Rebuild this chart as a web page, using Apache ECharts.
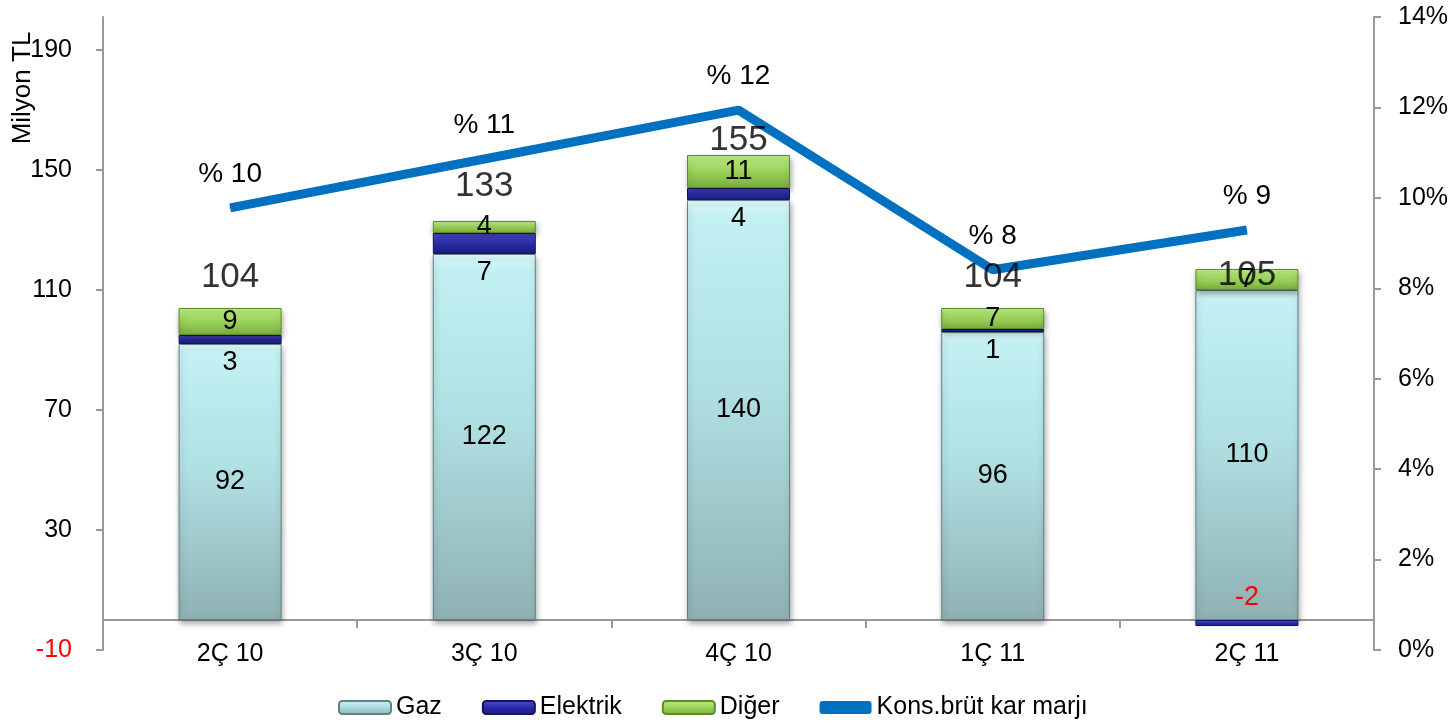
<!DOCTYPE html>
<html><head><meta charset="utf-8">
<script src="https://cdn.jsdelivr.net/npm/echarts@6/dist/echarts.min.js"></script>
<style>html,body{margin:0;padding:0;background:#fff}#c{width:1456px;height:721px}</style>
</head><body><div id="c"></div>
<script>
const categories = ['2Ç 10', '3Ç 10', '4Ç 10', '1Ç 11', '2Ç 11'];
const gaz = [92, 122, 140, 96, 110];
const elektrik = [3, 7, 4, 1, -2];
const diger = [9, 4, 11, 7, 7];
const totals = [104, 133, 155, 104, 105];
const margin = [9.78, 10.86, 11.94, 8.41, 9.29];
// style: how far each total label sits above the stack top (px)
const totalLift = [31, 35, 15, 31, -6];

const FONT = 'Liberation Sans, Arial, sans-serif';
const grad = (stops) => new echarts.graphic.LinearGradient(0, 0, 0, 1, stops.map((c) => ({offset: c[0], color: c[1]})));
const gazColor = grad([[0, '#e2fbfc'], [0.04, '#c2f0f3'], [0.45, '#b0e0e3'], [1, '#8fb1b3']]);
const elColor = grad([[0, '#5252d6'], [0.5, '#2a2aa8'], [1, '#1a1a7a']]);
const digColor = grad([[0, '#c0ee86'], [0.5, '#9bd25a'], [1, '#7aad3c']]);
const shadow = {shadowBlur: 6, shadowColor: 'rgba(0,0,0,0.35)', shadowOffsetY: 3, shadowOffsetX: 1};

const stackTop = gaz.map((g, i) => g + Math.max(elektrik[i], 0) + diger[i]);

const chart = echarts.init(document.getElementById('c'));
chart.setOption({
  animation: false,
  textStyle: {fontFamily: FONT},
  grid: {left: 103, right: 82, top: 17, bottom: 71},
  legend: {
    top: 690, left: 333, itemWidth: 52, itemHeight: 13, itemGap: 40,
    textStyle: {fontSize: 25, color: '#000', fontFamily: FONT},
    data: [{name: 'Gaz'}, {name: 'Elektrik'}, {name: 'Diğer'}, {name: 'Kons.brüt kar marjı', icon: 'roundRect'}]
  },
  graphic: [{
    type: 'text', x: 23, y: 88, rotation: Math.PI / 2,
    style: {text: 'Milyon TL', fontSize: 26, fontFamily: FONT, fill: '#000', align: 'center', verticalAlign: 'middle'}
  }],
  xAxis: {
    type: 'category', data: categories,
    axisLine: {onZero: true, lineStyle: {color: '#999', width: 2}},
    axisTick: {show: true, length: 8, lineStyle: {color: '#999', width: 2}},
    axisLabel: {fontSize: 25, color: '#000', margin: -8, fontFamily: FONT}
  },
  yAxis: [{
    type: 'value', min: -10, max: 201, interval: 40,
    splitLine: {show: false},
    axisLine: {show: true, onZero: false, lineStyle: {color: '#999', width: 2}},
    axisTick: {show: true, length: 7, lineStyle: {color: '#999', width: 2}},
    axisLabel: {
      showMaxLabel: false, fontSize: 25, margin: 31, color: '#000', fontFamily: FONT,
      formatter: v => v < 0 ? '{neg|' + v + '}' : String(v),
      rich: {neg: {color: '#ff0000', fontSize: 25, fontFamily: FONT}}
    }
  }, {
    type: 'value', min: 0, max: 14, interval: 2, position: 'right',
    splitLine: {show: false},
    axisLine: {show: true, onZero: false, lineStyle: {color: '#999', width: 2}},
    axisTick: {show: true, length: 7, lineStyle: {color: '#999', width: 2}},
    axisLabel: {fontSize: 25, margin: 24, color: '#000', formatter: '{value}%', fontFamily: FONT}
  }],
  series: [{
    name: 'Gaz', type: 'bar', stack: 's', barWidth: 103,
    itemStyle: Object.assign({color: gazColor, borderColor: '#5f8284', borderWidth: 1}, shadow),
    label: {show: true, position: 'inside', fontSize: 27, color: '#000', fontFamily: FONT},
    data: gaz
  }, {
    name: 'Elektrik', type: 'bar', stack: 's',
    itemStyle: {color: elColor, borderColor: '#15155e', borderWidth: 1},
    label: {show: true, position: 'bottom', distance: 5, fontSize: 27, color: '#000', fontFamily: FONT},
    data: elektrik.map(v => v < 0 ? {value: v, label: {position: 'top', distance: 9, color: '#ff0000'}} : v)
  }, {
    name: 'Diğer', type: 'bar', stack: 's',
    itemStyle: Object.assign({color: digColor, borderColor: '#5d8a2a', borderWidth: 1}, shadow),
    label: {show: true, position: 'inside', fontSize: 27, color: '#000', fontFamily: FONT},
    data: diger
  }, {
    name: 'Toplam', type: 'scatter', symbolSize: 0, silent: true,
    label: {show: true, position: 'inside', fontSize: 35, color: '#000', fontFamily: FONT,
      formatter: p => String(totals[p.dataIndex])},
    data: stackTop.map((v, i) => ({value: v, label: {offset: [0, -totalLift[i]]}})),
    z: 5
  }, {
    name: 'Kons.brüt kar marjı', type: 'line', yAxisIndex: 1,
    symbol: 'circle', symbolSize: 1, showSymbol: true,
    lineStyle: {color: '#0070c0', width: 9},
    itemStyle: {color: '#0070c0'},
    label: {show: true, position: 'top', distance: 19, fontSize: 28, color: '#000', fontFamily: FONT,
      formatter: p => '% ' + Math.round(p.value)},
    labelLayout: {hideOverlap: false},
    data: margin, z: 4
  }]
});
</script></body></html>
